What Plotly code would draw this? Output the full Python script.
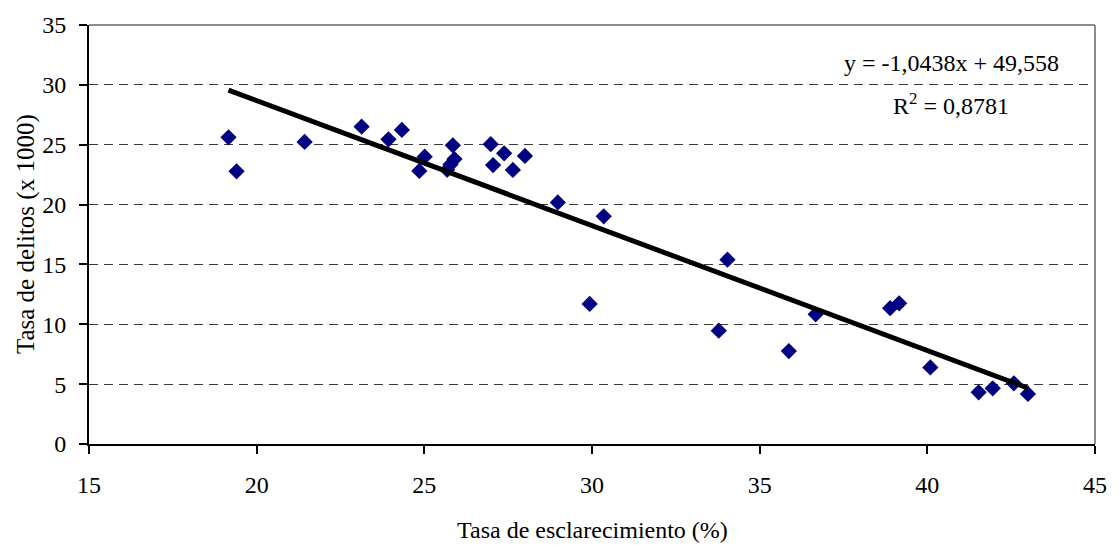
import plotly.graph_objects as go

# Clearance rate (%) vs. crime rate (per 1000 inhabitants)
esclarecimiento = [19.16, 19.40, 21.43, 23.13, 23.93, 24.33, 25.01, 24.85,
                   25.85, 25.90, 25.78, 25.68, 26.98, 27.38, 27.05, 28.00,
                   27.64, 28.98, 30.35, 29.93, 34.04, 33.78, 35.87, 36.67,
                   38.89, 39.16, 40.09, 41.53, 41.95, 42.58, 43.00]
delitos = [25.62, 22.78, 25.23, 26.51, 25.45, 26.23, 24.00, 22.81,
           24.95, 23.80, 23.35, 22.90, 25.04, 24.28, 23.30, 24.06,
           22.89, 20.18, 19.02, 11.70, 15.40, 9.47, 7.76, 10.83,
           11.34, 11.75, 6.40, 4.32, 4.65, 5.07, 4.18]

# Linear trend coefficients and fit quality
pendiente = -1.0438
intercepto = 49.558
r2 = 0.8781

x_ticks = [15, 20, 25, 30, 35, 40, 45]
y_ticks = [0, 5, 10, 15, 20, 25, 30, 35]

x_title = "Tasa de esclarecimiento (%)"
y_title = "Tasa de delitos (x 1000)"

FONT = 'Liberation Serif, "Times New Roman", serif'

x_min, x_max = min(esclarecimiento), max(esclarecimiento)
trend_x = [x_min, x_max]
trend_y = [intercepto + pendiente * v for v in trend_x]

fig = go.Figure()

fig.add_trace(go.Scatter(
    x=esclarecimiento, y=delitos, mode="markers",
    marker=dict(symbol="diamond", size=12.5, color="#000080",
                line=dict(width=0)),
    showlegend=False, hoverinfo="x+y",
))

fig.add_trace(go.Scatter(
    x=trend_x, y=trend_y, mode="lines",
    line=dict(color="black", width=5),
    showlegend=False, hoverinfo="skip",
))

def fmt(v, nd):
    return f"{v:.{nd}f}".replace(".", ",")

eq_text = f"y = {fmt(pendiente, 4)}x + {fmt(intercepto, 3)}"
r2_text = f"R<sup>2</sup> = {fmt(r2, 4)}"

txt_font = dict(family=FONT, size=24, color="black")

fig.add_annotation(x=40.72, y=31.8, xref="x", yref="y", text=eq_text,
                   showarrow=False, font=txt_font)
fig.add_annotation(x=40.72, y=28.4, xref="x", yref="y", text=r2_text,
                   showarrow=False, font=txt_font)

# Axis titles
fig.add_annotation(x=0.5, y=-0.205, xref="paper", yref="paper", text=x_title,
                   showarrow=False, xanchor="center", yanchor="middle",
                   font=txt_font)
fig.add_annotation(x=-0.063, y=0.5, xref="paper", yref="paper", text=y_title,
                   showarrow=False, xanchor="center", yanchor="middle",
                   textangle=-90, font=dict(family=FONT, size=25, color="black"))

# Plot frame: grey top and right edges
fig.add_shape(type="line", xref="paper", yref="paper", x0=0, x1=1, y0=1, y1=1,
              line=dict(color="#8c8c8c", width=2), layer="above")
fig.add_shape(type="line", xref="paper", yref="paper", x0=1, x1=1, y0=0, y1=1,
              line=dict(color="#8c8c8c", width=2), layer="above")

tick_font = dict(family=FONT, size=24, color="black")

fig.update_layout(
    width=1119, height=545,
    margin=dict(l=89, r=14, t=25, b=101),
    paper_bgcolor="white", plot_bgcolor="white",
    font=dict(family=FONT, size=24, color="black"),
    xaxis=dict(
        range=[15, 45], tickvals=x_ticks, ticks="outside", ticklen=8,
        tickcolor="black", tickwidth=1.5, ticklabelstandoff=10,
        showline=True, linecolor="black", linewidth=2,
        showgrid=False, zeroline=False, tickfont=tick_font,
    ),
    yaxis=dict(
        range=[0, 35], tickvals=y_ticks, ticks="outside", ticklen=8,
        tickcolor="black", tickwidth=1.5, ticklabelstandoff=8,
        showline=True, linecolor="black", linewidth=2,
        showgrid=True, gridcolor="#3a3a3a", gridwidth=1, griddash="9px,6px",
        zeroline=False, tickfont=tick_font,
    ),
)

fig.write_html("out.html")
